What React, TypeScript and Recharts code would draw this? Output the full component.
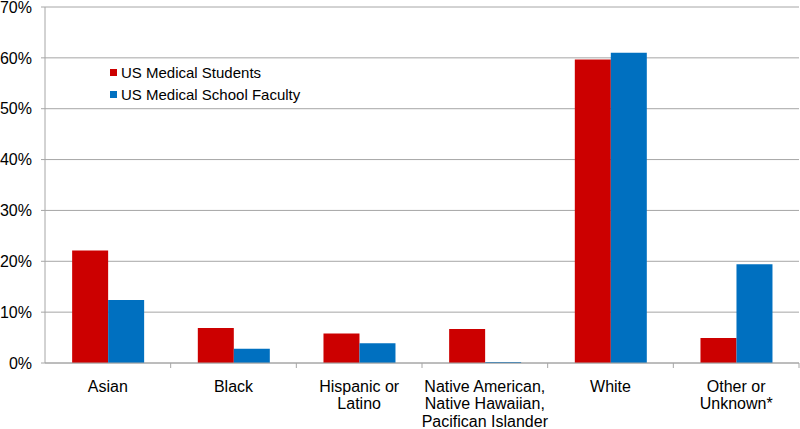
import { BarChart, Bar, XAxis, YAxis, CartesianGrid } from "recharts";

const categories = [
  "Asian",
  "Black",
  "Hispanic or Latino",
  "Native American, Native Hawaiian, Pacifican Islander",
  "White",
  "Other or Unknown*",
];
const categoryLines = [
  ["Asian"],
  ["Black"],
  ["Hispanic or", "Latino"],
  ["Native American,", "Native Hawaiian,", "Pacifican Islander"],
  ["White"],
  ["Other or", "Unknown*"],
];
const students = [22.1, 6.9, 5.8, 6.7, 59.7, 4.9];
const faculty = [12.4, 2.8, 3.9, 0.2, 61.0, 19.4];
const yTicks = [0, 10, 20, 30, 40, 50, 60, 70];

const data = categories.map((c, i) => ({
  name: c,
  students: students[i],
  faculty: faculty[i],
}));

const FONT = "'Liberation Sans', Arial, sans-serif";
const RED = "#cc0000";
const BLUE = "#0070c0";
const GRID = "#a6a6a6";
const BAND = (800 - 1 - 45) / categories.length;

function CategoryTick({ x, y, payload }: any) {
  const lines = categoryLines[payload.index] ?? [String(payload.value)];
  return (
    <g>
      <line x1={x + BAND / 2} x2={x + BAND / 2} y1={363} y2={368} stroke={GRID} />
      {lines.map((l, i) => (
        <text
          key={i}
          x={x}
          y={391.5 + i * 17.5}
          textAnchor="middle"
          fontSize={16}
          fontFamily={FONT}
          fill="#000"
        >
          {l}
        </text>
      ))}
    </g>
  );
}

export default function App() {
  return (
    <div style={{ position: "relative", width: 800, height: 429, background: "#fff" }}>
      <style>{`body { margin: 0; }`}</style>
      <BarChart
        width={800}
        height={429}
        data={data}
        margin={{ top: 7, right: 1, left: 0, bottom: 0 }}
        barCategoryGap="21.6%"
        barGap={0}
      >
        <CartesianGrid vertical={false} stroke={GRID} />
        <XAxis
          dataKey="name"
          height={66}
          interval={0}
          tickLine={false}
          axisLine={{ stroke: GRID }}
          tick={<CategoryTick />}
        />
        <YAxis
          width={45}
          domain={[0, 70]}
          ticks={yTicks}
          interval={0}
          tickFormatter={(v) => `${v}%`}
          tickSize={4}
          tickMargin={9}
          axisLine={{ stroke: GRID }}
          tickLine={{ stroke: GRID }}
          tick={{ fontSize: 16, fontFamily: FONT, fill: "#000" }}
        />
        <Bar dataKey="students" fill={RED} isAnimationActive={false} />
        <Bar dataKey="faculty" fill={BLUE} isAnimationActive={false} />
      </BarChart>
      <div style={{ position: "absolute", left: 110, top: 61, fontFamily: FONT, fontSize: 15, color: "#000" }}>
        {[
          { label: "US Medical Students", color: RED },
          { label: "US Medical School Faculty", color: BLUE },
        ].map((it) => (
          <div key={it.label} style={{ display: "flex", alignItems: "center", height: 22 }}>
            <span style={{ width: 7, height: 7, background: it.color, marginRight: 4 }} />
            {it.label}
          </div>
        ))}
      </div>
    </div>
  );
}
